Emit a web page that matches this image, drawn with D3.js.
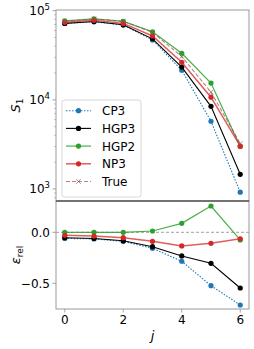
<!DOCTYPE html>
<html>
<head>
<meta charset="utf-8">
<script src="https://cdn.jsdelivr.net/npm/d3@7"></script>
<style>
  body { margin: 0; background: #fff; }
  svg text { font-family: "DejaVu Sans", sans-serif; }
</style>
</head>
<body>
<div id="chart"></div>
<script>
// x positions
const js = [0, 1, 2, 3, 4, 5, 6];

// S1 values (top panel, log scale)
const cp3 = [72000, 75000, 69000, 47000, 21500, 5750, 920];
const hgp3 = [72000, 75500, 69500, 48300, 23300, 8450, 1460];
const hgp2 = [77000, 81000, 76000, 58000, 33300, 15400, 3000];
const np3 = [74000, 78000, 72000, 52000, 26400, 10700, 3020];
const trueVals = [76000, 81000, 76000, 57200, 30600, 12200, 3240];

// relative errors (bottom panel)
const cp3Err = [-0.060, -0.065, -0.089, -0.157, -0.284, -0.523, -0.713];
const hgp3Err = [-0.053, -0.060, -0.082, -0.141, -0.232, -0.304, -0.546];
const hgp2Err = [0.0, 0.0, 0.0, 0.013, 0.088, 0.258, -0.075];
const np3Err = [-0.030, -0.036, -0.053, -0.088, -0.134, -0.108, -0.063];

const xTicks = [0, 2, 4, 6];
const yTopTicks = [1e3, 1e4, 1e5];
const yBotTicks = [0.0, -0.5];

const series = [
  { name: "CP3", color: "#1f77b4", dash: "1.5,1.5", vals: cp3, err: cp3Err, marker: "dot", op: 1, w: 1.1 },
  { name: "HGP3", color: "#000000", dash: null, vals: hgp3, err: hgp3Err, marker: "dot", op: 1, w: 1.1 },
  { name: "HGP2", color: "#2ca02c", dash: null, vals: hgp2, err: hgp2Err, marker: "dot", op: 0.85, w: 1.2 },
  { name: "NP3", color: "#d62728", dash: null, vals: np3, err: np3Err, marker: "dot", op: 0.75, w: 1.5 },
  { name: "True", color: "#8c564b", dash: "4,2", vals: trueVals, err: null, marker: "x", op: 0.7, w: 1.1 }
];

const W = 254, H = 349;
const left = 56, right = 249;
const topY0 = 10, topY1 = 201, botY0 = 201, botY1 = 309;

const svg = d3.select("#chart").append("svg")
  .attr("width", W).attr("height", H);

const x = d3.scaleLinear().domain([-0.3, 6.3]).range([left, right]);
const yTop = d3.scaleLog().domain([733, 101800]).range([topY1, topY0]);
const yBot = d3.scaleLinear().domain([-0.752, 0.307]).range([botY1, botY0]);

const fs = 12;
const spine = "#999";

// zero line
svg.append("line")
  .attr("x1", left).attr("x2", right)
  .attr("y1", yBot(0)).attr("y2", yBot(0))
  .attr("stroke", "#888").attr("stroke-width", 0.8).attr("stroke-dasharray", "3,2");

function drawSeries(g, s, data, y) {
  const line = d3.line().x((d, i) => x(js[i])).y(d => y(d));
  g.append("path")
    .attr("d", line(data))
    .attr("fill", "none")
    .attr("stroke", s.color)
    .attr("stroke-opacity", s.op)
    .attr("stroke-width", s.w)
    .attr("stroke-dasharray", s.dash);
  if (s.marker === "dot") {
    g.selectAll(null).data(data).enter().append("circle")
      .attr("cx", (d, i) => x(js[i])).attr("cy", d => y(d))
      .attr("r", 2.6).attr("fill", s.color);
  } else {
    data.forEach((d, i) => {
      const cx = x(js[i]), cy = y(d), r = 2.2;
      g.append("path")
        .attr("d", `M${cx - r},${cy - r}L${cx + r},${cy + r}M${cx - r},${cy + r}L${cx + r},${cy - r}`)
        .attr("stroke", s.color).attr("stroke-opacity", s.op).attr("stroke-width", 1);
    });
  }
}

const topG = svg.append("g");
const botG = svg.append("g");
series.forEach(s => {
  drawSeries(topG, s, s.vals, yTop);
  if (s.err) drawSeries(botG, s, s.err, yBot);
});

// frames
function frame(y0, y1) {
  svg.append("rect")
    .attr("x", left).attr("y", y0)
    .attr("width", right - left).attr("height", y1 - y0)
    .attr("fill", "none").attr("stroke", spine).attr("stroke-width", 1);
}
frame(topY0, topY1);
frame(botY0, botY1);
svg.append("line")
  .attr("x1", left).attr("x2", right).attr("y1", topY1).attr("y2", topY1)
  .attr("stroke", "#333").attr("stroke-width", 1);

// top y axis ticks (log, with minor)
for (let e = 2; e <= 5; e++) {
  for (let m = 1; m <= 9; m++) {
    const v = m * Math.pow(10, e);
    if (v < yTop.domain()[0] || v > yTop.domain()[1]) continue;
    const len = m === 1 ? 3.5 : 2;
    svg.append("line")
      .attr("x1", left - len).attr("x2", left)
      .attr("y1", yTop(v)).attr("y2", yTop(v))
      .attr("stroke", spine).attr("stroke-width", m === 1 ? 0.9 : 0.6);
  }
}
yTopTicks.forEach(v => {
  const t = svg.append("text")
    .attr("x", left - 6).attr("y", yTop(v) + 4.5)
    .attr("text-anchor", "end").attr("font-size", fs).attr("fill", "#000");
  t.append("tspan").text("10");
  t.append("tspan").attr("dy", -5).attr("font-size", 8.5).text(Math.round(Math.log10(v)));
});

// bottom y axis
yBotTicks.forEach(v => {
  svg.append("line")
    .attr("x1", left - 3.5).attr("x2", left)
    .attr("y1", yBot(v)).attr("y2", yBot(v))
    .attr("stroke", spine).attr("stroke-width", 0.9);
  svg.append("text")
    .attr("x", left - 6).attr("y", yBot(v) + 4.3)
    .attr("text-anchor", "end").attr("font-size", fs).attr("fill", "#000")
    .text(d3.format(".1f")(v).replace("-", "\u2212"));
});

// x axis (bottom)
xTicks.forEach(v => {
  svg.append("line")
    .attr("x1", x(v)).attr("x2", x(v))
    .attr("y1", botY1).attr("y2", botY1 + 3.5)
    .attr("stroke", spine).attr("stroke-width", 0.9);
  svg.append("text")
    .attr("x", x(v)).attr("y", botY1 + 15)
    .attr("text-anchor", "middle").attr("font-size", fs).attr("fill", "#000")
    .text(v);
});

// axis labels
svg.append("text")
  .attr("x", x(3)).attr("y", 340)
  .attr("text-anchor", "middle").attr("font-size", 13)
  .attr("font-style", "italic").text("j");

const s1 = svg.append("text")
  .attr("transform", `translate(20,${(topY0 + topY1) / 2}) rotate(-90)`)
  .attr("text-anchor", "middle").attr("font-size", 13);
s1.append("tspan").attr("font-style", "italic").text("S");
s1.append("tspan").attr("dy", 3).attr("font-size", 9).text("1");

const er = svg.append("text")
  .attr("transform", `translate(20,${(botY0 + botY1) / 2}) rotate(-90)`)
  .attr("text-anchor", "middle").attr("font-size", 13);
er.append("tspan").attr("font-style", "italic").text("\u03b5");
er.append("tspan").attr("dy", 3).attr("font-size", 9).text("rel");

// legend
const lg = svg.append("g");
lg.append("rect")
  .attr("x", 62).attr("y", 100).attr("width", 79).attr("height", 97)
  .attr("rx", 2.5).attr("fill", "#fff").attr("fill-opacity", 0.85)
  .attr("stroke", "#ccc").attr("stroke-width", 0.8);
series.forEach((s, i) => {
  const yy = 110.7 + i * 17.7;
  lg.append("line")
    .attr("x1", 66).attr("x2", 91).attr("y1", yy).attr("y2", yy)
    .attr("stroke", s.color).attr("stroke-opacity", s.op).attr("stroke-width", s.w)
    .attr("stroke-dasharray", s.dash);
  if (s.marker === "dot") {
    lg.append("circle").attr("cx", 78.5).attr("cy", yy).attr("r", 2.6).attr("fill", s.color);
  } else {
    const r = 2.2;
    lg.append("path")
      .attr("d", `M${78.5 - r},${yy - r}L${78.5 + r},${yy + r}M${78.5 - r},${yy + r}L${78.5 + r},${yy - r}`)
      .attr("stroke", s.color).attr("stroke-opacity", s.op).attr("stroke-width", 1);
  }
  lg.append("text")
    .attr("x", 102).attr("y", yy + 4.5)
    .attr("font-size", fs).attr("fill", "#000").text(s.name);
});
</script>
</body>
</html>
